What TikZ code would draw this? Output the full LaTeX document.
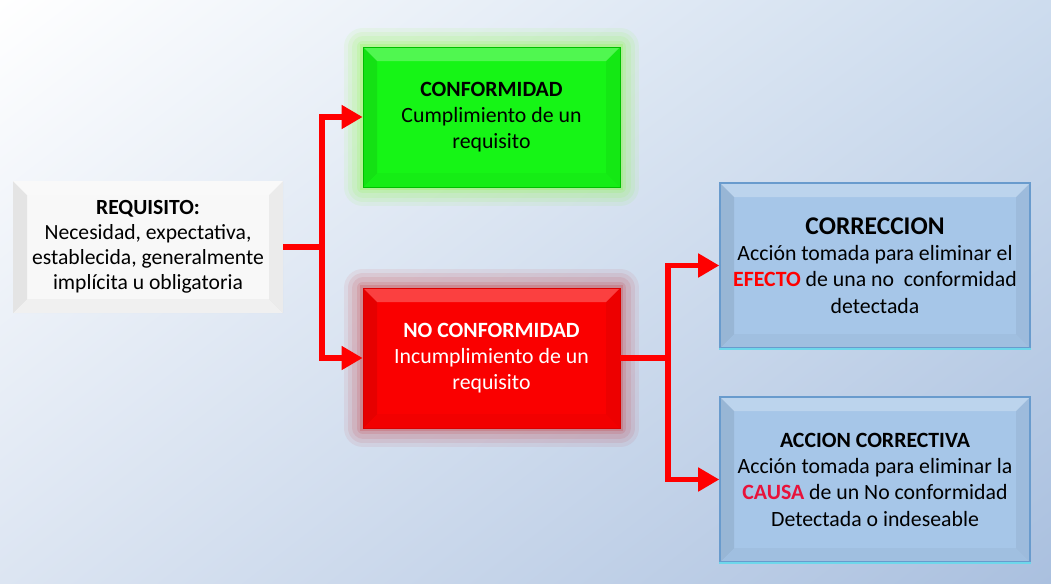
\documentclass[tikz,border=0pt]{standalone}
\usepackage{fontspec}
\setmainfont{Carlito}
\usepackage{xcolor}
\usetikzlibrary{arrows.meta,shadings}

\definecolor{linkred}{RGB}{255,0,0}
\definecolor{okgreen}{RGB}{22,245,22}
\definecolor{ngred}{RGB}{250,0,0}
\definecolor{reqfill}{RGB}{248,248,248}
\definecolor{actfill}{RGB}{166,198,232}
\definecolor{actdraw}{RGB}{105,155,205}
\definecolor{actedge}{RGB}{110,215,235}
\definecolor{bgtopright}{RGB}{205,220,238}
\definecolor{bgbotleft}{RGB}{220,229,242}
\definecolor{bgcorner}{RGB}{170,192,223}
\definecolor{causared}{RGB}{232,18,58}

\begin{document}
\begin{tikzpicture}[
  >={Triangle[length=12pt,width=13pt]},
  every node/.style={font=\fontsize{12.4}{15}\selectfont},
  box/.style={rectangle, align=center, inner sep=0pt},
  bevel/.style={path picture={
    \coordinate (sw) at (path picture bounding box.south west);
    \coordinate (ne) at (path picture bounding box.north east);
    \coordinate (nw) at (path picture bounding box.north west);
    \coordinate (se) at (path picture bounding box.south east);
    \fill[black,opacity=.08] (sw) -- (nw) -- ([shift={(.28,-.28)}]nw) -- ([shift={(.28,.28)}]sw) -- cycle;
    \fill[white,opacity=.25] (nw) -- (ne) -- ([shift={(-.28,-.28)}]ne) -- ([shift={(.28,-.28)}]nw) -- cycle;
    \fill[black,opacity=.05] (ne) -- (se) -- ([shift={(-.28,.28)}]se) -- ([shift={(-.28,-.28)}]ne) -- cycle;
    \fill[black,opacity=.03] (sw) -- (se) -- ([shift={(-.28,.28)}]se) -- ([shift={(.28,.28)}]sw) -- cycle;
  }},
  glow/.style={preaction={draw=#1,opacity=.06,line width=22pt,line join=round},
               preaction={draw=#1,opacity=.07,line width=17pt,line join=round},
               preaction={draw=#1,opacity=.08,line width=12pt,line join=round},
               preaction={draw=#1,opacity=.10,line width=7pt,line join=round},
               preaction={draw=#1,opacity=.15,line width=3pt}},
  link/.style={draw=linkred, line width=3.4pt},
  act/.style={box, bevel, fill=actfill, draw=actdraw, line width=.8pt,
               minimum width=6.2cm, minimum height=3.3cm}]

  % background
  \shade[upper left=white, upper right=bgtopright, lower left=bgbotleft, lower right=bgcorner]
    (0,0) rectangle (21.02,-11.66);
  \useasboundingbox (0,0) rectangle (21.02,-11.66);

  \node[box, bevel, fill=reqfill, minimum width=5.4cm, minimum height=2.64cm, font=\fontsize{12.3}{14.3}\selectfont] (req) at (2.96,-4.94)
    {\textbf{REQUISITO:}\\Necesidad, expectativa,\\establecida, generalmente\\implícita u obligatoria};

  \node[box, bevel, glow=green!60!yellow, fill=okgreen, draw=green!75!black, minimum width=5.14cm, minimum height=2.8cm] (conf) at (9.83,-2.34)
    {\textbf{CONFORMIDAD}\\Cumplimiento de un\\requisito};

  \node[box, bevel, glow=red!75!black, fill=ngred, draw=red!85!black, text=white, minimum width=5.14cm, minimum height=2.8cm] (nc) at (9.83,-7.16)
    {\textbf{NO CONFORMIDAD}\\Incumplimiento de un\\requisito};

  \node[act] (corr) at (17.5,-5.31)
    {{\fontsize{14.5}{17.5}\selectfont\textbf{CORRECCION}}\\Acción tomada para eliminar el\\\textcolor{linkred}{\textbf{EFECTO}} de una no\ \ conformidad\\detectada};
  \node[act] (acc) at (17.5,-9.59)
    {\textbf{ACCION CORRECTIVA}\\Acción tomada para eliminar la\\\textcolor{causared}{\textbf{CAUSA}} de un No conformidad\\Detectada o indeseable};
  \draw[actedge, line width=1.2pt] (corr.south west) -- (corr.south east);
  \draw[actedge, line width=1.2pt] (acc.south west) -- (acc.south east);

  % connectors
  \coordinate (j1) at (6.44,-4.94);
  \coordinate (j2) at (13.36,-7.16);
  \draw[link] (req.east) -- (j1);
  \draw[link,->] (j1) |- (conf.west);
  \draw[link,->] (j1) |- (nc.west);
  \draw[link] (nc.east) -- (j2);
  \draw[link,->] (j2) |- (corr.west);
  \draw[link,->] (j2) |- (acc.west);
\end{tikzpicture}
\end{document}
